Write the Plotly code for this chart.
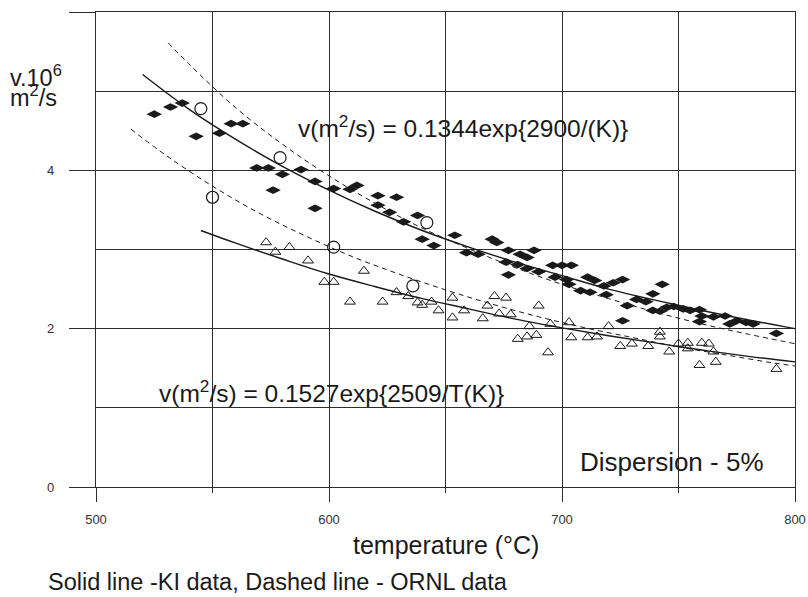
import plotly.graph_objects as go

# ---- Data ----
# KI data (filled diamonds): temperature (°C), v·10^6 (m²/s)
ki_t = [525, 532, 537, 543, 553, 558, 563, 569, 574, 580, 588, 576, 594, 602, 609, 612,
        594, 621, 629, 621, 626, 632, 638, 640, 645, 654, 659, 664, 670, 672, 677, 682,
        685, 688, 676, 681, 677, 685, 690, 696, 700, 704, 697, 702, 703, 708, 712, 711,
        714, 718, 722, 726, 719, 728, 726, 732, 736, 739, 743, 739, 742, 745, 748, 752,
        755, 759, 760, 759, 765, 770, 772, 775, 779, 782, 792]
ki_v = [4.71, 4.80, 4.85, 4.43, 4.47, 4.59, 4.59, 4.03, 4.03, 3.95, 4.01, 3.75, 3.86, 3.77, 3.76, 3.81,
        3.52, 3.68, 3.66, 3.56, 3.47, 3.35, 3.43, 3.13, 3.05, 3.18, 2.96, 2.94, 3.13, 3.09, 2.99, 2.94,
        2.90, 2.99, 2.84, 2.81, 2.68, 2.76, 2.72, 2.80, 2.80, 2.80, 2.65, 2.62, 2.56, 2.48, 2.46, 2.65,
        2.61, 2.54, 2.58, 2.62, 2.43, 2.29, 2.10, 2.37, 2.34, 2.44, 2.56, 2.23, 2.22, 2.27, 2.28, 2.25,
        2.23, 2.24, 2.16, 2.09, 2.15, 2.16, 2.06, 2.10, 2.08, 2.06, 1.94]

# Second KI data set (open triangles)
tri_t = [573, 577, 583, 591, 598, 602, 615, 609, 623, 629, 634, 638, 640, 644, 647, 653,
         653, 658, 666, 668, 671, 676, 673, 678, 690, 686, 695, 703, 681, 685, 689, 694,
         704, 711, 715, 720, 725, 730, 737, 742, 742, 746, 750, 754, 754, 760, 763, 765,
         759, 766, 792]
tri_v = [3.09, 2.97, 3.03, 2.86, 2.59, 2.59, 2.73, 2.34, 2.34, 2.46, 2.41, 2.33, 2.30, 2.34, 2.23, 2.39,
         2.14, 2.23, 2.13, 2.29, 2.41, 2.39, 2.19, 2.18, 2.29, 2.03, 2.06, 2.08, 1.87, 1.90, 1.92, 1.70,
         1.89, 1.89, 1.90, 2.03, 1.78, 1.81, 1.78, 1.96, 1.90, 1.71, 1.81, 1.82, 1.75, 1.82, 1.81, 1.71,
         1.54, 1.58, 1.49]

# ORNL data (open circles)
ornl_t = [545, 579, 550, 602, 642, 636]
ornl_v = [4.78, 4.16, 3.66, 3.03, 3.34, 2.54]

# Fitted curves
ki_fit1_t = [520, 540, 560, 580, 600, 620, 640, 660, 680, 700, 720, 740, 760, 780, 800]
ki_fit1_v = [5.21, 4.77, 4.39, 4.05, 3.75, 3.48, 3.24, 3.03, 2.84, 2.67, 2.50, 2.36, 2.23, 2.11, 2.00]

ki_fit2_t = [545, 560, 580, 600, 620, 640, 660, 680, 700, 720, 740, 760, 780, 800]
ki_fit2_v = [3.24, 3.08, 2.88, 2.69, 2.53, 2.38, 2.25, 2.12, 2.01, 1.91, 1.82, 1.73, 1.65, 1.58]

ornl_fit1_t = [531, 540, 560, 580, 600, 620, 640, 660, 680, 700, 720, 740, 760, 780, 800]
ornl_fit1_v = [5.61, 5.34, 4.79, 4.33, 3.93, 3.58, 3.27, 3.01, 2.77, 2.56, 2.38, 2.21, 2.06, 1.93, 1.81]

ornl_fit2_t = [515, 530, 550, 570, 590, 610, 630, 650, 670, 690, 710, 730, 750, 770, 790, 800]
ornl_fit2_v = [4.52, 4.19, 3.80, 3.46, 3.17, 2.91, 2.69, 2.49, 2.31, 2.15, 2.01, 1.89, 1.77, 1.67, 1.57, 1.53]

x_ticks = [500, 600, 700, 800]
y_ticks = [0, 2, 4, 6]
y_ticktext = ["0", "2", "4", ""]

FONT = "Arial, Liberation Sans, sans-serif"
INK = "#1a1a1a"
GRID = "#2e2e2e"

fig = go.Figure()

dash_line = dict(color=INK, width=1, dash="5px,4px")
solid_line = dict(color=INK, width=1.4)

fig.add_trace(go.Scatter(x=ornl_fit1_t, y=ornl_fit1_v, mode="lines", line=dash_line,
                         line_shape="spline", hoverinfo="skip"))
fig.add_trace(go.Scatter(x=ornl_fit2_t, y=ornl_fit2_v, mode="lines", line=dash_line,
                         line_shape="spline", hoverinfo="skip"))
fig.add_trace(go.Scatter(x=ki_fit1_t, y=ki_fit1_v, mode="lines", line=solid_line,
                         line_shape="spline", hoverinfo="skip"))
fig.add_trace(go.Scatter(x=ki_fit2_t, y=ki_fit2_v, mode="lines", line=solid_line,
                         line_shape="spline", hoverinfo="skip"))

fig.add_trace(go.Scatter(x=ki_t, y=ki_v, mode="markers",
                         marker=dict(symbol="diamond-wide", size=11, color=INK,
                                     line=dict(width=0))))
fig.add_trace(go.Scatter(x=tri_t, y=tri_v, mode="markers",
                         marker=dict(symbol="triangle-up-open", size=9.5, color=INK,
                                     line=dict(width=1, color=INK))))
fig.add_trace(go.Scatter(x=ornl_t, y=ornl_v, mode="markers",
                         marker=dict(symbol="circle-open", size=12, color=INK,
                                     line=dict(width=1.2, color=INK))))

def f(size):
    return dict(family=FONT, size=size, color=INK)

annotations = [
    dict(text="v(m<sup>2</sup>/s) = 0.1344exp{2900/(K)}", x=0.2861, y=0.760,
         xanchor="left", yanchor="middle", font=f(24.5)),
    dict(text="v(m<sup>2</sup>/s) = 0.1527exp{2509/T(K)}", x=0.0873, y=0.202,
         xanchor="left", yanchor="middle", font=f(24.5)),
    dict(text="Dispersion - 5%", x=0.6896, y=0.0526, xanchor="left", yanchor="middle",
         font=f(26)),
    dict(text="temperature (°C)", x=0.5, y=-0.122, xanchor="center", yanchor="middle",
         font=f(25)),
    dict(text="Solid line -KI data, Dashed line - ORNL data", x=-0.0715, y=-0.200,
         xanchor="left", yanchor="middle", font=f(23.5)),
    dict(text="v.10<sup>6</sup>", x=-0.1259, y=0.866, xanchor="left", yanchor="middle",
         font=f(23.5)),
    dict(text="m<sup>2</sup>/s", x=-0.1259, y=0.824, xanchor="left", yanchor="middle",
         font=f(23.5)),
]
for a in annotations:
    a.update(xref="paper", yref="paper", showarrow=False)

fig.update_layout(
    width=808, height=597,
    margin=dict(l=96, r=13, t=12, b=110, autoexpand=False),
    paper_bgcolor="white", plot_bgcolor="white",
    showlegend=False,
    annotations=annotations,
    font=dict(family=FONT, color=INK),
)

fig.update_xaxes(
    range=[500, 800], tickvals=x_ticks, automargin=False,
    ticks="outside", ticklen=14, tickwidth=1.3, tickcolor=GRID,
    tickfont=dict(family=FONT, size=13, color="#333"), ticklabelstandoff=6,
    showgrid=True, gridcolor=GRID, gridwidth=1.3,
    minor=dict(dtick=50, tick0=500, showgrid=True, gridcolor=GRID, gridwidth=1.3,
               ticks="outside", ticklen=5, tickwidth=1.3, tickcolor=GRID),
    showline=True, linecolor=GRID, linewidth=1.3, mirror=True,
    zeroline=False, fixedrange=True,
)
fig.update_yaxes(
    range=[0, 6], tickvals=y_ticks, ticktext=y_ticktext, automargin=False,
    ticks="outside", ticklen=26, tickwidth=1.3, tickcolor=GRID,
    tickfont=dict(family=FONT, size=13, color="#333"), ticklabelstandoff=12,
    showgrid=True, gridcolor=GRID, gridwidth=1.3,
    minor=dict(dtick=1, tick0=0, showgrid=True, gridcolor=GRID, gridwidth=1.3),
    showline=True, linecolor=GRID, linewidth=1.3, mirror=True,
    zeroline=False, fixedrange=True,
)

fig.write_html("out.html")
